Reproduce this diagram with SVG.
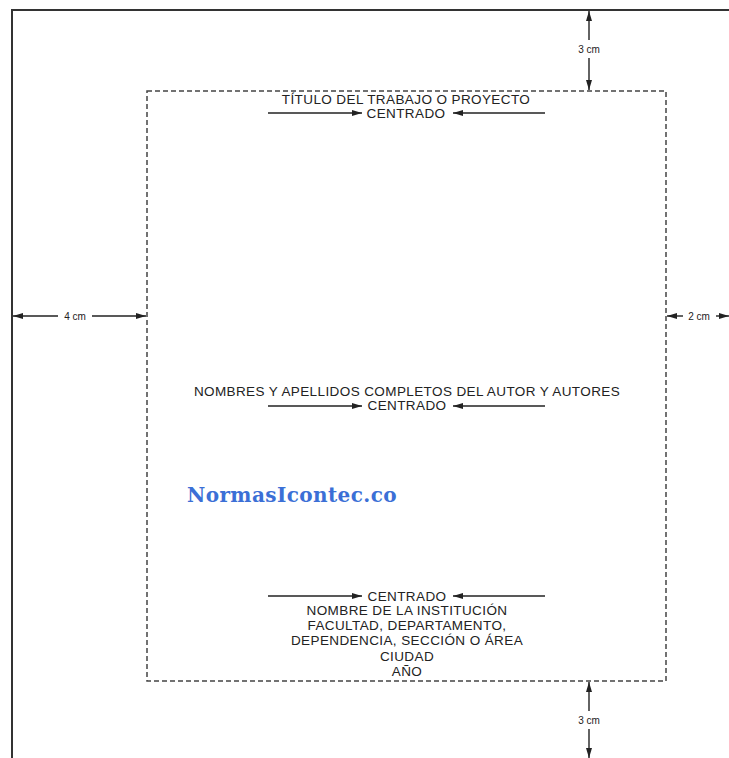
<svg xmlns="http://www.w3.org/2000/svg" width="729" height="758" viewBox="0 0 729 758">
<defs>
<marker id="ah" viewBox="0 0 10 6" refX="10" refY="3" markerWidth="10" markerHeight="6" markerUnits="userSpaceOnUse" orient="auto-start-reverse">
<path d="M0,0 L10,3 L0,6 z" fill="#222"/>
</marker>
<style>
.t{font-family:"Liberation Sans",Arial,sans-serif;font-size:13.5px;letter-spacing:0.4px;fill:#222;text-anchor:middle}
.d{font-family:"Liberation Sans",Arial,sans-serif;font-size:10px;fill:#222;text-anchor:middle}
.dim{stroke:#222;stroke-width:1.4;fill:none;marker-end:url(#ah)}
</style>
</defs>
<rect width="729" height="758" fill="#fff"/>
<g id="page">
<path d="M12,758 V10 H729" stroke="#333" stroke-width="2" fill="none"/>
</g>
<g id="margin-box">
<rect x="147" y="91" width="519" height="590" fill="none" stroke="#444" stroke-width="1.5" stroke-dasharray="5,3"/>
</g>
<g id="connectors">
<line class="dim" x1="589" y1="40" x2="589" y2="11"/>
<line class="dim" x1="589" y1="58" x2="589" y2="90"/>
<line class="dim" x1="58" y1="316" x2="13" y2="316"/>
<line class="dim" x1="92" y1="316" x2="146" y2="316"/>
<line class="dim" x1="683" y1="316" x2="667" y2="316"/>
<line class="dim" x1="716" y1="316" x2="729" y2="316"/>
<line class="dim" x1="589" y1="711" x2="589" y2="682"/>
<line class="dim" x1="589" y1="729" x2="589" y2="758"/>
<line class="dim" x1="268" y1="113" x2="362" y2="113"/>
<line class="dim" x1="545" y1="113" x2="453" y2="113"/>
<line class="dim" x1="268" y1="406" x2="362" y2="406"/>
<line class="dim" x1="545" y1="406" x2="453" y2="406"/>
<line class="dim" x1="268" y1="596" x2="362" y2="596"/>
<line class="dim" x1="545" y1="596" x2="453" y2="596"/>
</g>
<g id="dim-top"><text class="d" x="589" y="53">3 cm</text></g>
<g id="dim-left"><text class="d" x="75" y="320">4 cm</text></g>
<g id="dim-right"><text class="d" x="699" y="320">2 cm</text></g>
<g id="dim-bottom"><text class="d" x="589" y="724">3 cm</text></g>
<g id="title">
<text class="t" x="406" y="104">TÍTULO DEL TRABAJO O PROYECTO</text>
<text class="t" x="406" y="118">CENTRADO</text>
</g>
<g id="authors">
<text class="t" x="407" y="396">NOMBRES Y APELLIDOS COMPLETOS DEL AUTOR Y AUTORES</text>
<text class="t" x="407" y="410">CENTRADO</text>
</g>
<g id="watermark">
<text x="187" y="502" font-family="'DejaVu Serif',serif" font-weight="bold" font-size="20" letter-spacing="0.4" fill="#3b6fd6">NormasIcontec.co</text>
</g>
<g id="institution">
<text class="t" x="407" y="601">CENTRADO</text>
<text class="t" x="407" y="615">NOMBRE DE LA INSTITUCIÓN</text>
<text class="t" x="407" y="630">FACULTAD, DEPARTAMENTO,</text>
<text class="t" x="407" y="645">DEPENDENCIA, SECCIÓN O ÁREA</text>
<text class="t" x="407" y="661">CIUDAD</text>
<text class="t" x="407" y="676">AÑO</text>
</g>
</svg>
